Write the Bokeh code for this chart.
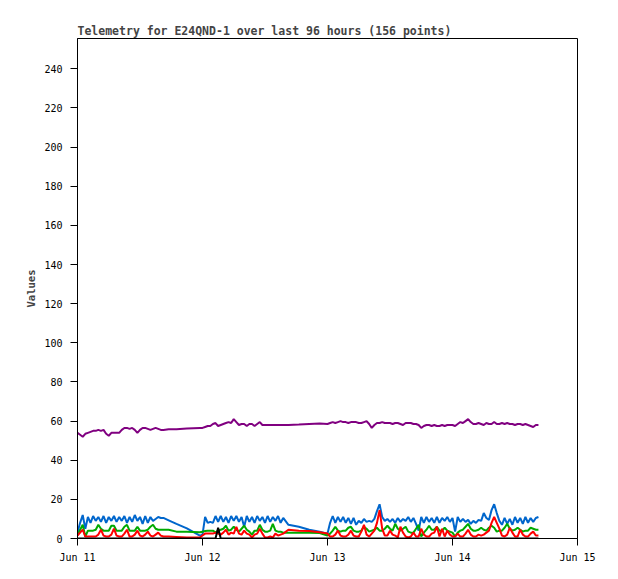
import numpy as np
from bokeh.plotting import figure
from bokeh.models import FixedTicker, DatetimeTickFormatter, Range1d
from bokeh.embed import file_html
from bokeh.resources import INLINE

title_text = "Telemetry for E24QND-1 over last 96 hours (156 points)"
y_label = "Values"
start_time = "2024-06-11T00:00"
end_time = "2024-06-15T00:00"
day_ticks = ["2024-06-11", "2024-06-12", "2024-06-13", "2024-06-14", "2024-06-15"]
y_ticks = [0, 20, 40, 60, 80, 100, 120, 140, 160, 180, 200, 220, 240]

# hours after Jun 11 00:00
hours = [
    0.0, 0.5, 1.0, 1.5, 2.0, 2.5, 3.0, 3.5, 4.0, 4.5, 5.0, 5.5, 6.0, 6.5, 7.0, 7.5, 8.0,
    8.5, 9.0, 9.5, 10.0, 10.5, 11.0, 11.5, 12.0, 12.5, 13.0, 13.5, 14.0, 14.5, 15.0, 15.5,
    16.0, 16.5,
    17.5, 19.0, 21.0, 23.5,
    24.0, 24.5, 25.0, 25.5, 26.0, 26.5, 27.0, 27.5, 28.0, 28.5, 29.0, 29.5, 30.0, 30.5,
    31.0, 31.5, 32.0, 32.5, 33.0, 33.5, 34.0, 34.5, 35.0, 35.5, 36.0, 36.5, 37.0, 37.5,
    38.0, 38.5, 39.0, 39.5,
    40.5, 42.5, 44.5, 46.5,
    48.0, 48.5, 49.0, 49.5, 50.0, 50.5, 51.0, 51.5, 52.0, 52.5, 53.0, 53.5, 54.0, 54.5,
    55.0, 55.5, 56.0, 56.5, 57.0, 57.5, 58.0, 58.5, 59.0, 59.5, 60.0, 60.5, 61.0, 61.5,
    62.0, 62.5, 63.0, 63.5, 64.0, 64.5, 65.0, 65.5, 66.0, 66.5, 67.0, 67.5, 68.0, 68.5,
    69.0, 69.5, 70.0, 70.5, 71.0, 71.5, 72.0, 72.5, 73.0, 73.5, 74.0, 74.5, 75.0, 75.5,
    76.0, 76.5, 77.0, 77.5, 78.0, 78.5, 79.0, 79.5, 80.0, 80.5, 81.0, 81.5, 82.0, 82.5,
    83.0, 83.5, 84.0, 84.5, 85.0, 85.5, 86.0, 86.5, 87.0, 87.5, 88.0, 88.5,
]

purple_vals = [
    54, 53, 52, 53.5, 54, 54.5, 55, 55, 55.5, 55, 55.5, 53.5, 52.5, 54, 54, 54, 54,
    55.5, 56.5, 56.5, 56, 56.5, 55.5, 54, 55.5, 56.5, 56.5, 56, 55.5, 56, 56.5, 56, 55.5, 55.5,
    55.8, 55.8, 56.2, 56.5,
    56.5, 57, 57.5, 57.5, 58.5, 59, 57.5, 58, 58.5, 59, 59.5, 59, 61, 59.5, 58, 58.5,
    58.5, 57.5, 58.5, 58.5, 57.5, 58.5, 59.5, 58, 58, 58, 58, 58, 58, 58, 58, 58,
    58, 58.2, 58.5, 58.8,
    58.5, 59, 59.5, 59, 59.5, 60, 59.5, 59.5, 59, 59.5,
    59.5, 59.5, 59, 59, 59.5, 60, 58.5, 56.5, 58, 59,
    59, 59.5, 59, 59, 59, 58.5, 59, 59, 58.5, 58,
    59, 59, 59, 58.5, 58.5, 58, 56.5, 57.5, 58, 58,
    57.5, 58, 57.5, 57.5, 58, 57.5, 58, 58, 58, 57.5,
    58.5, 59.5, 59, 60, 61, 59.5, 58.5, 58.5, 59, 58.5,
    58, 59, 58.5, 58.5, 59.5, 58.5, 58.5, 59, 58.5, 59,
    58.5, 58.5, 58, 58.5, 58.5, 58, 58.5, 58, 57.5, 57,
    58, 58,
]

blue_vals = [
    3, 8, 12, 5, 11, 8, 11.5, 9, 11, 8.5, 11.5, 8, 11, 9, 11.5, 8.5, 11, 9, 11.5, 8,
    11, 8.5, 12, 9, 11, 7.5, 11.5, 8, 11, 9, 10, 11, 10.5, 10.5,
    9.3, 7.5, 5.2, 1.5,
    2, 11, 8, 8.5, 8, 11.5, 8.5, 11.5, 8.5, 11, 8, 11.5, 9, 11.5, 8.5, 11, 6, 11.5,
    8.5, 11, 8, 11.5, 9, 11, 8, 11.5, 8.5, 11, 9, 11.5, 8, 10.5,
    7, 6, 4.5, 3.5,
    2.5, 8, 11.5, 8, 11, 8.5, 11, 8, 10.5, 7.5,
    10.5, 7, 9, 8, 10, 8.5, 9, 8.5, 10, 14,
    17.5, 11, 9, 10, 8.5, 10, 8, 10.5, 8.5, 10,
    9, 11, 8.5, 10.5, 7.5, 4, 11, 8, 11, 8.5,
    10.5, 8, 11, 8, 10.5, 9, 11, 8.5, 10.5, 3.5,
    11, 8.5, 10, 8.5, 9.5, 7.5, 9, 8, 9.5, 9,
    13, 10.5, 9.5, 14.5, 17.5, 13, 9, 7, 10.5, 7.5,
    10, 7, 11, 8, 10.5, 7.5, 11, 8, 10.5, 8.5,
    10.5, 11,
]

green_vals = [
    2, 4.5, 7, 1, 4, 4, 4, 4.5, 7, 5, 4, 4, 4, 6.5, 6.5, 4, 4, 4, 6, 7,
    4, 4, 4, 6, 4, 4, 4, 4.5, 6, 7, 5, 4.5, 4.5, 4.5,
    4.5, 3.5, 3.5, 3.2,
    3.5, 3.8, 4, 4, 4, 3, 4, 4.5, 5, 6.5, 4, 4.5, 6, 4.5, 3.5, 5, 6.5, 4.5, 3.5, 2,
    4, 4, 7, 4.5, 3.5, 3.5, 4, 7.5, 4, 3.5, 3.5, 3,
    3, 3, 3, 2.8,
    1.5, 2.5, 4, 6, 4, 3.5, 4, 4, 5.5, 6,
    4, 3.5, 3.5, 4, 6, 5, 3.5, 4, 4.5, 5.5,
    4, 4, 5, 6.5, 5, 4, 7.5, 5, 4, 5,
    6, 3.5, 3, 3, 5, 7, 1, 3, 4.5, 6.5,
    4.5, 4.5, 6, 4, 4, 5.5, 4, 3.5, 3, 1,
    3, 4, 4.5, 6, 7.5, 5, 4, 4, 4.5, 5.5,
    4.5, 4, 5.5, 6.5, 5.5, 3.5, 4, 4, 5.5, 7.5,
    5, 4, 4.5, 5.5, 4.5, 3.5, 4, 4, 5.5, 5,
    4.5, 4.5,
]

red_vals = [
    1.5, 3, 4.5, 1, 1, 1, 1, 1, 2, 4.5, 1.5, 1, 1, 2, 5, 1.5, 1, 1, 2.5, 4.5,
    1, 1, 2, 4, 1.5, 1, 2, 3.5, 1.5, 1, 2, 3, 1.5, 1,
    1, 0.8, 0.5, 0.5,
    1.5, 2.5, 2.5, 2.5, 2.5, 3, 2.5, 2, 3, 4.5, 2, 3, 2.5, 6, 2.5, 2, 4, 2.5, 2, 0.5,
    2, 2.5, 5, 2.5, 0.5, 0.5, 1, 0.5, 2.5, 1.5, 2, 2.5,
    4.5, 4, 3.8, 3.2,
    2.5, 1, 1, 2, 4, 1.5, 1, 1, 2, 4,
    1.5, 1, 1, 3.5, 7, 2, 1, 2.5, 4, 8,
    14.5, 5, 1.5, 1.5, 4, 2, 1.5, 0.5, 6, 3,
    1, 0.5, 1, 3, 1, 1, 5, 2, 1, 1,
    2.5, 3, 6, 1, 5, 1, 4, 2, 1, 1,
    2.5, 1, 1, 2.5, 4.5, 2, 1, 1, 2, 1.5,
    2, 3, 4, 8, 11, 8, 5, 1.5, 1, 2,
    5.5, 3, 1, 1, 4.5, 2, 1, 1, 2.5, 3.5,
    1.5, 1.5,
]

black_vals = [
    0, 0, 0, 0, 0, 0, 0, 0, 0, 0, 0, 0, 0, 0, 0, 0, 0, 0, 0, 0,
    0, 0, 0, 0, 0, 0, 0, 0, 0, 0, 0, 0, 0, 0,
    0, 0, 0, 0,
    0, 0, 0, 0, 0, 0, 5.5, 0, 0, 0, 0, 0, 0, 0, 0, 0, 0, 0, 0, 0,
    0, 0, 0, 0, 0, 0, 0, 0, 0, 0, 0, 0,
    0, 0, 0, 0,
    0, 0, 0, 0, 0, 0, 0, 0, 0, 0,
    0, 0, 0, 0, 0, 0, 0, 0, 0, 0,
    0, 0, 0, 0, 0, 0, 0, 0, 0, 0,
    0, 0, 0, 0, 0, 0, 0, 0, 0, 0,
    0, 0, 0, 0, 0, 0, 0, 0, 0, 0,
    0, 0, 0, 0, 0, 0, 0, 0, 0, 0,
    0, 0, 0, 0, 0, 0, 0, 0, 0, 0,
    0, 0, 0, 0, 0, 0, 0, 0, 0, 0,
    0, 0,
]

series = [
    (purple_vals, "#800080"),
    (blue_vals, "#0066cc"),
    (green_vals, "#00aa00"),
    (red_vals, "#ff0000"),
    (black_vals, "#000000"),
]

for vals, _ in series:
    assert len(vals) == len(hours), (len(vals), len(hours))

epoch = np.datetime64("1970-01-01T00:00")
def to_ms(dt64):
    return (dt64 - epoch) / np.timedelta64(1, "ms")

t0 = np.datetime64(start_time)
times = t0 + (np.array(hours) * 60).astype(int).astype("timedelta64[m]")
x_ms = to_ms(times.astype("datetime64[m]"))
tick_ms = [float(to_ms(np.datetime64(d + "T00:00"))) for d in day_ticks]

MONO = "DejaVu Sans Mono"

p = figure(
    width=610, height=571,
    x_axis_type="datetime",
    x_range=Range1d(float(to_ms(np.datetime64(start_time))), float(to_ms(np.datetime64(end_time)))),
    y_range=Range1d(0, 255.5),
    output_backend="svg",
    toolbar_location=None,
    title=title_text,
    min_border_left=77, min_border_right=33, min_border_top=38, min_border_bottom=33,
)
p.background_fill_color = "white"
p.border_fill_color = "white"
p.outline_line_color = "black"
p.outline_line_width = 1
p.grid.visible = False

p.title.text_font = MONO
p.title.text_font_size = "11.5px"
p.title.text_font_style = "bold"
p.title.align = "left"
p.title.offset = 0
p.title.standoff = 1

for vals, col in series:
    p.line(x_ms, vals, line_color=col, line_width=2)

xa = p.xaxis[0]
xa.ticker = FixedTicker(ticks=tick_ms)
xa.formatter = DatetimeTickFormatter(
    days="%b %d", hours="%b %d", hourmin="%b %d", minutes="%b %d", months="%b %d",
    years="%b %d", minsec="%b %d", seconds="%b %d", milliseconds="%b %d", microseconds="%b %d",
)
ya = p.yaxis[0]
ya.ticker = FixedTicker(ticks=y_ticks)
ya.axis_label = y_label

for ax in (xa, ya):
    ax.axis_line_color = "black"
    ax.major_tick_line_color = "black"
    ax.major_tick_out = 7
    ax.major_tick_in = 0
    ax.minor_tick_line_color = None
    ax.major_label_text_font = MONO
    ax.major_label_text_font_size = "10px"
    ax.major_label_text_color = "black"
    ax.axis_label_text_font = MONO
    ax.axis_label_text_font_size = "10.5px"
    ax.axis_label_text_font_style = "bold"
xa.major_label_standoff = 6
ya.major_label_standoff = 8
ya.axis_label_standoff = 4

open("out.html", "w").write(file_html(p, INLINE))
